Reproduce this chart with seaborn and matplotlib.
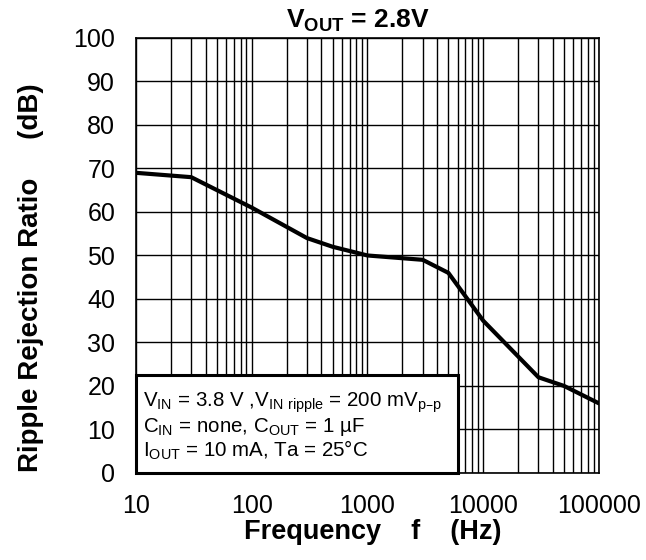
import matplotlib
matplotlib.use("Agg")
import matplotlib.pyplot as plt
import seaborn as sns
import pandas as pd
import numpy as np
from matplotlib.patches import Rectangle
from matplotlib.ticker import FixedLocator, NullFormatter

freq_hz = [10, 30, 100, 300, 500, 1000, 3000, 5000, 10000, 30000, 50000, 100000]
ripple_db = [69, 68, 61, 54, 52, 50, 49, 46, 35, 22, 20, 16]
x_ticks = [10, 100, 1000, 10000, 100000]
x_tick_labels = ["10", "100", "1000", "10000", "100000"]
y_ticks = [0, 10, 20, 30, 40, 50, 60, 70, 80, 90, 100]

sns.set_theme(style="white")
plt.rcParams["font.family"] = ["Liberation Sans", "DejaVu Sans"]
plt.rcParams["mathtext.default"] = "regular"

df = pd.DataFrame({"f": freq_hz, "rr": ripple_db})

fig = plt.figure(figsize=(6.46, 5.6), dpi=100)
ax = fig.add_axes([0.2105, 0.1554, 0.7167, 0.7768])

ax.set_xscale("log")
ax.set_xlim(10, 100000)
ax.set_ylim(0, 100)

minor = []
for d in [10, 100, 1000, 10000]:
    for k in range(2, 10):
        minor.append(d * k)
ax.xaxis.set_major_locator(FixedLocator(x_ticks))
ax.xaxis.set_minor_locator(FixedLocator(minor))
ax.xaxis.set_minor_formatter(NullFormatter())
ax.set_xticks(x_ticks)
ax.set_xticklabels(x_tick_labels)
ax.set_yticks(y_ticks)

ax.grid(True, which="major", color="black", linewidth=1.0)
ax.grid(True, which="minor", axis="x", color="black", linewidth=1.0)
ax.tick_params(axis="both", which="both", length=0, labelsize=18, colors="black")
ax.tick_params(axis="y", pad=15)
ax.tick_params(axis="x", pad=15)

sns.lineplot(data=df, x="f", y="rr", ax=ax, color="black", linewidth=3, zorder=5)

for s in ax.spines.values():
    s.set_color("black")
    s.set_linewidth(1.2)

ax.set_xlabel("Frequency    f    (Hz)", fontsize=19.5, fontweight="bold", color="black")
ax.xaxis.set_label_coords(0.512, -0.105)
ax.set_ylabel("Ripple Rejection Ratio     (dB)", fontsize=20, fontweight="bold", color="black")
ax.yaxis.set_label_coords(-0.199, 0.45)
ax.set_title("$V_{OUT}$ = 2.8V", fontsize=19, fontweight="bold", color="black", pad=7, x=0.48)

rect = Rectangle((0, 0), 0.695, 0.225, transform=ax.transAxes, facecolor="white",
                 edgecolor="black", linewidth=2.2, zorder=10, clip_on=False)
ax.add_patch(rect)
lines = [
    ("$V_{IN}$ = 3.8 V ,$V_{IN\\ ripple}$ = 200 m$V_{p\u2013p}$", 0.152),
    ("$C_{IN}$ = none, $C_{OUT}$ = 1 µF", 0.094),
    ("$I_{OUT}$ = 10 mA, Ta = 25°C", 0.037),
]
for txt, yy in lines:
    ax.text(0.015, yy, txt, transform=ax.transAxes, fontsize=14.8, color="black",
            va="baseline", ha="left", zorder=11)

fig.savefig("out.png", dpi=100)
